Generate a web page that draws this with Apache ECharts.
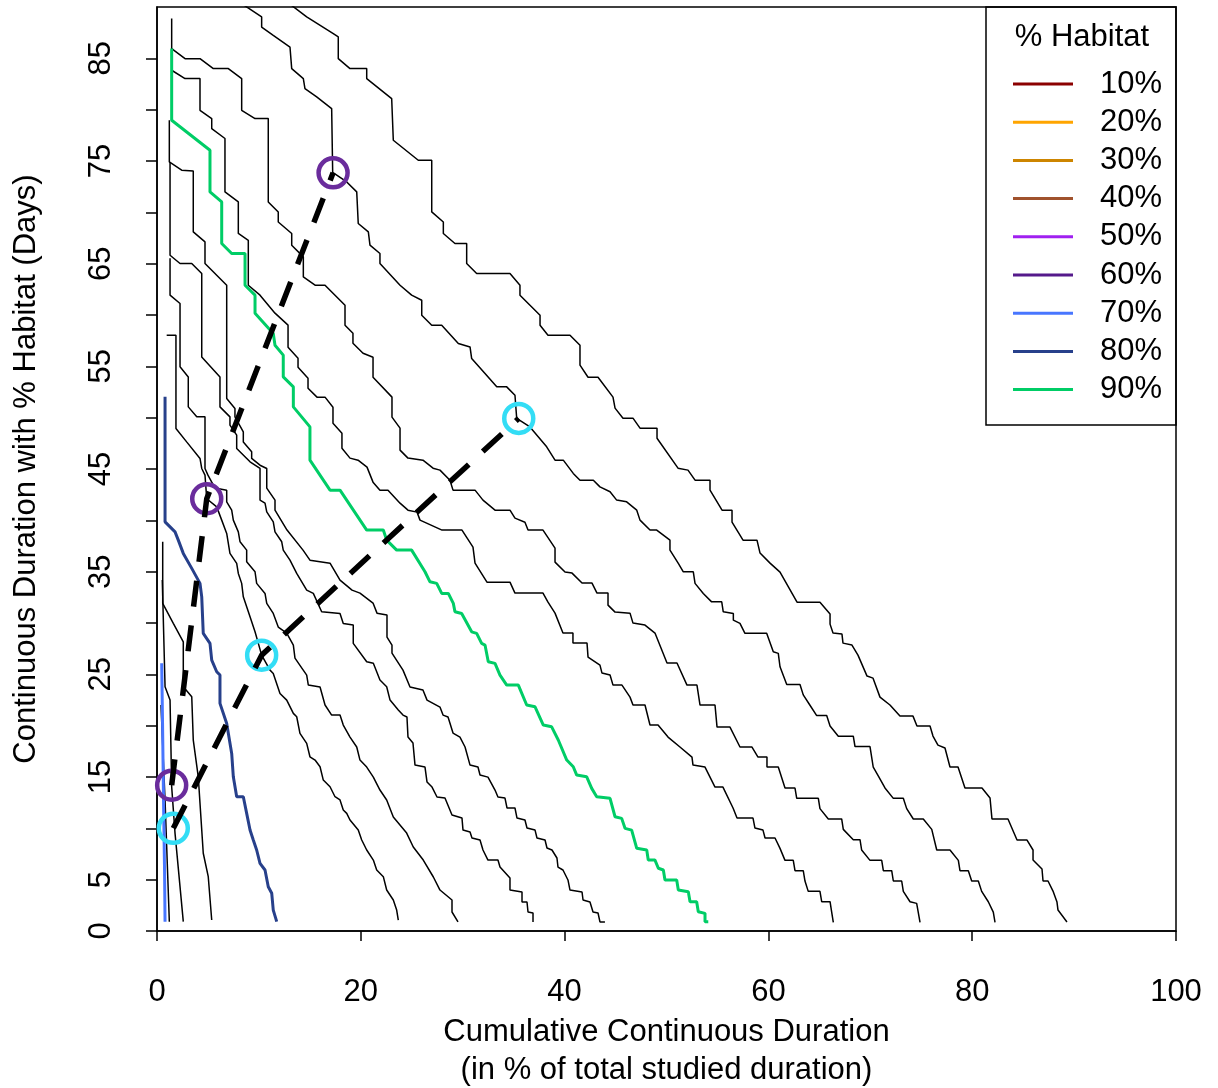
<!DOCTYPE html>
<html>
<head>
<meta charset="utf-8">
<script src="https://cdn.jsdelivr.net/npm/echarts@6/dist/echarts.min.js"></script>
<style>html,body{margin:0;padding:0;background:#fff;}#chart{width:1218px;height:1088px;}</style>
</head>
<body>
<div id="chart"></div>
<script>
// ---------------- DATA (x = cumulative % of studied duration, y = days) ----------------
const habitatLevels = ['10%','20%','30%','40%','50%','60%','70%','80%','90%'];
const habitatColors = ['#8B0000','#FFA500','#CD8500','#A0522D','#A020F0','#551A8B','#4876FF','#27408B','#00CD66'];
const xTicks = [0,20,40,60,80,100];
const yTickValues = [0,5,10,15,20,25,30,35,40,45,50,55,60,65,70,75,80,85];
const yLabelValues = [0,5,15,25,35,45,55,65,75,85];

// black reference curves
const curve1 = [[12.1,91.0],[14.69,89.03],[17.30,87.41],[17.79,87.08],[17.79,84.97],[18.94,84.00],[20.58,84.00],[20.58,83.03],[23.03,81.08],[23.19,77.02],[25.64,75.07],[26.96,75.07],[26.96,70.04],[28.10,69.06],[28.10,67.94],[29.24,66.96],[30.39,66.96],[30.39,65.02],[31.37,64.04],[34.64,64.04],[35.62,62.90],[35.62,61.93],[37.59,59.98],[37.59,59.01],[38.37,58.03],[40.53,58.03],[41.51,57.06],[41.51,55.11],[42.30,53.94],[43.28,53.94],[44.75,52.00],[44.95,50.93],[45.73,49.95],[46.71,49.95],[47.40,48.98],[49.07,48.98],[49.07,48.00],[51.13,45.08],[52.11,44.89],[52.80,43.91],[54.27,43.91],[54.27,42.94],[55.45,40.99],[56.43,40.99],[56.43,39.82],[57.51,38.07],[58.88,38.07],[59.18,36.81],[60.16,35.83],[61.14,34.96],[62.81,32.03],[65.06,32.03],[66.05,30.87],[66.05,29.89],[66.34,29.02],[67.22,28.92],[67.32,28.04],[68.20,27.85],[68.79,26.87],[69.68,24.83],[70.27,24.63],[70.95,22.78],[71.93,22.01],[72.91,20.93],[74.19,20.93],[74.58,19.96],[75.86,19.96],[76.15,18.99],[76.64,18.11],[77.33,17.82],[77.82,15.97],[78.61,15.97],[79.29,13.92],[80.96,13.92],[81.75,12.95],[81.94,10.91],[83.51,10.91],[84.40,8.86],[85.38,8.86],[85.97,7.89],[85.97,6.91],[86.85,6.04],[86.95,4.87],[87.44,4.87],[87.93,3.89],[88.32,2.82],[88.42,2.04],[89.30,0.88]];
const curve2 = [[7.3,91.0],[10.27,89.03],[10.27,88.05],[11.41,87.24],[13.05,86.10],[13.22,84.00],[14.36,83.03],[14.52,82.05],[15.67,81.24],[17.14,80.11],[17.24,73.90],[18.62,72.96],[19.60,71.99],[19.75,68.91],[20.74,68.09],[20.90,66.80],[21.88,65.99],[21.88,65.02],[23.85,62.90],[24.99,61.93],[25.98,61.44],[25.98,59.98],[26.96,59.01],[27.94,59.01],[29.57,57.22],[30.72,56.89],[30.88,55.76],[32.19,54.30],[33.34,53.00],[34.32,53.00],[35.13,52.19],[35.30,49.92],[36.60,49.10],[38.24,47.16],[39.06,45.86],[39.87,45.86],[40.85,44.57],[41.51,43.91],[42.82,43.91],[43.47,43.26],[44.46,42.78],[45.11,41.97],[46.09,41.80],[47.08,40.99],[47.40,40.02],[48.38,39.05],[49.04,39.05],[50.34,38.07],[50.34,37.10],[51.16,35.80],[51.65,34.99],[52.63,34.99],[52.80,33.86],[53.61,32.88],[54.43,32.06],[55.42,32.06],[55.57,31.09],[56.56,30.93],[56.56,30.28],[57.21,29.96],[57.70,28.99],[59.83,28.99],[60.48,27.20],[60.97,27.04],[61.14,25.74],[61.80,24.00],[63.10,24.00],[63.42,23.00],[64.08,21.99],[64.74,20.98],[65.72,20.98],[66.05,19.97],[66.86,18.97],[68.33,18.97],[68.50,17.96],[69.97,17.96],[70.29,15.95],[70.78,15.10],[71.44,13.93],[72.26,12.92],[73.24,12.92],[73.57,11.92],[74.22,10.91],[75.20,10.91],[76.03,9.90],[76.52,7.89],[77.82,7.89],[78.64,6.88],[78.80,5.87],[79.62,5.87],[79.95,4.87],[80.60,4.87],[80.93,3.86],[81.58,2.85],[82.07,1.84],[82.24,0.84]];
const curve3 = [[1.44,88.87],[1.44,85.95],[2.75,84.97],[4.22,84.97],[5.53,84.00],[7.00,84.00],[8.31,83.03],[8.31,79.94],[9.62,79.13],[10.92,79.13],[10.92,71.01],[11.90,70.04],[11.90,69.06],[13.22,67.94],[13.22,66.80],[14.36,65.66],[14.36,63.71],[15.51,62.90],[16.49,62.90],[18.45,60.95],[18.45,59.01],[19.23,58.23],[19.23,57.25],[20.22,56.28],[21.20,55.89],[21.20,53.94],[23.06,52.00],[23.06,50.05],[23.85,48.98],[23.85,46.84],[24.63,46.06],[26.10,45.86],[27.09,45.08],[27.77,44.89],[28.75,43.91],[29.05,42.94],[31.21,42.94],[31.99,41.97],[33.17,40.99],[34.64,40.99],[35.13,40.21],[36.11,39.82],[36.41,39.05],[37.88,39.05],[39.06,37.29],[39.06,35.93],[40.04,34.96],[40.73,34.86],[41.71,33.89],[42.69,33.89],[43.18,32.91],[44.26,32.91],[44.26,31.74],[44.95,31.06],[46.42,30.96],[46.71,29.99],[47.89,29.80],[48.87,29.02],[50.05,26.10],[51.03,26.10],[52.01,23.95],[52.99,23.95],[53.29,22.01],[54.76,22.01],[54.96,19.86],[56.23,19.86],[57.21,17.92],[58.39,17.92],[58.98,16.94],[59.86,16.94],[59.86,15.97],[60.97,15.97],[61.63,13.92],[62.61,13.92],[62.78,12.92],[64.90,12.92],[65.06,11.92],[65.88,10.91],[67.19,10.91],[67.35,9.90],[68.33,8.89],[68.99,8.89],[69.15,7.89],[69.97,6.88],[71.12,6.88],[71.28,5.87],[72.10,5.87],[72.26,4.87],[73.08,4.87],[73.24,3.86],[73.90,2.85],[74.55,2.69],[74.88,0.84]];
const curve4 = [[1.44,83.84],[2.75,83.03],[4.22,83.03],[4.22,79.94],[5.37,79.13],[5.37,78.16],[6.67,77.19],[6.67,71.99],[7.98,71.01],[7.98,67.94],[8.96,67.28],[8.96,62.90],[10.11,61.93],[11.58,60.18],[12.86,59.01],[12.86,56.86],[13.84,55.79],[13.84,54.92],[14.82,53.85],[14.82,52.87],[15.70,52.00],[16.49,52.00],[17.27,51.02],[17.27,49.46],[18.15,48.49],[18.15,47.03],[18.94,46.06],[19.73,45.86],[20.61,45.18],[21.20,43.72],[21.88,42.94],[22.67,42.94],[23.85,41.67],[24.63,40.99],[25.52,40.80],[25.81,40.02],[27.97,39.05],[29.93,39.05],[31.01,37.39],[31.21,35.83],[32.38,33.98],[34.64,33.98],[35.13,32.91],[37.88,32.91],[38.37,32.03],[39.06,30.96],[39.84,29.02],[40.82,29.02],[40.82,28.04],[42.20,28.04],[42.30,26.68],[43.47,25.90],[43.67,25.12],[44.46,24.93],[44.75,23.95],[45.63,23.95],[46.42,22.78],[46.71,22.01],[47.89,22.01],[48.38,20.06],[49.17,20.06],[50.15,18.89],[51.32,17.92],[52.50,16.94],[52.60,16.16],[53.78,15.97],[54.76,14.02],[55.54,14.02],[56.53,11.98],[56.92,11.00],[58.49,11.00],[58.68,10.03],[59.47,9.83],[59.67,9.06],[60.65,9.06],[61.14,8.05],[61.63,6.88],[62.44,6.88],[62.61,5.87],[63.42,5.87],[63.59,4.87],[63.91,3.86],[65.06,3.86],[65.23,2.85],[66.05,2.85],[66.21,1.84],[66.37,0.84]];
const curve5 = [[1.21,78.97],[1.21,74.91],[2.42,74.10],[3.56,74.03],[3.56,68.09],[4.71,67.12],[4.71,65.02],[6.84,62.90],[6.84,51.87],[7.65,50.90],[7.65,50.08],[8.47,48.62],[8.47,47.64],[9.29,46.67],[9.29,46.03],[10.11,45.37],[10.77,45.05],[10.77,43.14],[11.58,41.97],[11.58,40.99],[12.76,39.05],[14.33,37.10],[15.01,36.12],[16.98,35.83],[17.96,34.18],[19.14,33.20],[19.92,32.91],[21.20,31.94],[21.59,30.96],[22.57,30.77],[22.57,28.63],[23.06,27.85],[23.06,27.07],[24.14,25.41],[24.83,23.76],[26.10,23.47],[26.50,22.49],[27.77,21.81],[28.07,21.03],[28.56,20.84],[29.05,19.28],[29.73,18.89],[30.23,17.92],[30.72,16.16],[31.50,15.97],[31.70,15.19],[32.48,14.99],[33.17,13.73],[33.46,13.05],[34.15,12.95],[34.35,11.98],[35.13,11.98],[35.33,11.00],[36.11,10.81],[36.31,10.03],[37.10,9.83],[37.29,9.06],[38.08,8.86],[38.27,8.08],[38.76,7.89],[39.25,7.11],[39.35,6.23],[39.84,5.94],[40.33,4.97],[40.53,3.99],[41.71,3.80],[41.81,3.02],[42.49,2.82],[42.79,1.85],[43.28,1.75],[43.47,0.88],[43.96,0.88]];
const curve6 = [[1.28,74.91],[1.28,65.82],[2.26,65.02],[3.41,65.02],[4.39,64.04],[4.39,55.92],[6.18,53.97],[6.18,51.05],[7.16,50.08],[7.16,49.27],[7.82,48.30],[7.82,47.00],[9.13,45.70],[10.11,45.05],[10.11,41.97],[10.60,41.67],[10.77,40.83],[11.41,39.85],[11.58,38.88],[12.24,37.91],[12.39,37.10],[13.05,36.12],[13.71,34.83],[14.69,33.20],[15.34,32.88],[16.16,31.09],[17.96,30.93],[18.28,29.96],[19.26,29.80],[19.26,28.01],[20.58,26.22],[21.23,26.07],[21.88,24.44],[22.54,23.79],[22.87,22.49],[23.68,21.52],[24.14,21.03],[24.53,20.84],[24.63,18.89],[25.12,18.31],[25.32,16.16],[26.30,15.97],[26.50,14.51],[26.99,14.02],[27.48,13.05],[28.26,12.95],[28.95,11.30],[29.93,11.00],[30.03,9.83],[30.72,9.64],[30.91,9.06],[31.70,8.86],[31.99,7.89],[32.48,6.91],[33.46,6.91],[33.66,6.23],[34.64,5.16],[34.64,3.99],[35.82,3.80],[35.82,2.82],[36.31,2.82],[36.41,1.85],[36.90,1.75],[36.90,0.88]];
const curve7 = [[1.28,65.53],[1.28,61.93],[2.26,61.12],[2.26,54.95],[3.07,53.97],[3.07,51.05],[3.90,50.08],[4.71,50.08],[4.71,45.05],[5.00,44.40],[5.69,43.14],[6.84,42.94],[6.84,41.80],[7.33,40.99],[7.49,40.02],[7.98,38.88],[8.15,37.91],[8.80,37.10],[8.80,35.96],[9.62,34.99],[9.78,33.86],[10.60,32.88],[10.77,31.91],[11.41,30.93],[11.90,29.60],[12.73,29.02],[13.38,27.85],[13.54,26.58],[14.69,24.93],[14.85,23.95],[16.00,23.76],[16.49,22.01],[17.14,21.03],[17.96,21.03],[18.28,20.06],[18.94,18.89],[19.60,17.92],[19.92,16.65],[20.58,15.97],[21.23,14.99],[21.88,13.73],[22.54,12.76],[23.19,11.10],[24.50,9.54],[25.15,8.18],[26.13,6.91],[27.12,5.26],[27.77,3.99],[28.95,3.02],[28.95,1.85],[29.54,0.88]];
const curve8 = [[0.95,58.03],[1.86,58.03],[1.86,48.95],[2.91,47.64],[4.22,46.03],[4.39,45.05],[4.71,44.40],[4.88,42.10],[5.86,41.31],[6.35,40.02],[6.84,38.72],[7.16,36.78],[7.82,35.80],[7.98,34.83],[8.31,33.86],[8.47,32.55],[9.13,30.60],[9.62,29.14],[10.27,26.87],[11.09,25.41],[11.41,25.09],[12.07,23.14],[12.73,22.49],[13.38,21.20],[13.71,20.87],[14.03,19.25],[14.69,18.28],[15.01,16.97],[15.51,16.65],[16.00,16.00],[16.32,14.70],[16.98,14.05],[17.47,13.08],[17.96,12.76],[18.28,11.78],[18.62,11.46],[18.94,10.81],[19.75,9.83],[20.09,8.86],[20.58,7.89],[21.23,6.91],[21.56,5.94],[22.21,5.29],[22.54,3.99],[23.19,3.02],[23.52,2.04],[23.68,1.07]];
const curve9 = [[0.56,37.91],[0.56,31.91],[1.60,29.96],[2.58,28.17],[2.58,23.79],[3.41,22.81],[3.56,18.60],[4.05,15.02],[4.54,7.57],[5.03,5.29],[5.37,1.07]];
const curve10 = [[0.52,34.18],[0.79,23.79],[1.28,22.49],[1.44,14.05],[1.77,9.51],[2.58,0.91]];
const curve11 = [[0.39,22.01],[0.79,12.76],[1.21,0.91]];

// coloured % habitat curves
const habitat70 = [[0.46,26.07],[0.54,20.55],[0.64,12.76],[0.74,5.94],[0.79,0.91]];
const habitat80 = [[0.79,52.03],[0.79,39.85],[1.77,38.88],[2.09,38.07],[2.58,36.78],[3.41,35.32],[4.22,33.86],[4.39,32.55],[4.54,28.99],[5.20,28.01],[5.37,26.39],[5.86,25.25],[6.18,24.93],[6.18,22.17],[6.84,20.22],[7.33,17.30],[7.49,15.02],[7.82,13.08],[8.47,13.08],[8.80,11.46],[9.13,9.83],[9.45,8.86],[9.78,7.89],[10.11,6.59],[10.60,5.94],[10.92,4.31],[11.26,3.67],[11.41,2.04],[11.75,0.91]];
const habitat90 = [[1.44,85.95],[1.44,78.97],[5.20,76.05],[5.20,71.99],[6.35,71.01],[6.35,66.96],[7.33,65.99],[8.64,65.99],[8.64,62.90],[9.62,61.93],[9.62,60.18],[11.41,58.20],[11.58,57.06],[12.39,56.09],[12.39,53.97],[13.38,53.00],[13.38,51.05],[15.01,49.10],[15.01,45.86],[16.98,42.94],[17.96,42.94],[20.58,39.05],[22.21,39.05],[22.54,38.07],[23.52,37.10],[24.99,37.10],[26.30,34.99],[26.79,34.01],[27.45,33.86],[27.94,32.88],[28.59,32.88],[29.08,31.91],[29.24,31.09],[29.90,30.93],[30.88,29.14],[31.37,28.99],[31.86,28.01],[32.19,27.85],[32.51,26.22],[33.17,26.07],[33.66,24.93],[34.32,23.95],[35.46,23.95],[36.28,22.01],[37.10,21.84],[37.91,20.06],[38.73,19.89],[39.38,18.60],[40.21,16.65],[40.85,16.00],[41.19,15.19],[42.17,15.02],[42.66,13.89],[43.15,13.08],[44.46,12.92],[44.95,11.13],[45.60,10.97],[45.93,10.00],[46.58,9.83],[47.08,8.05],[48.06,7.89],[48.21,6.91],[48.87,6.91],[49.20,6.11],[49.69,5.94],[49.85,4.97],[51.00,4.97],[51.16,3.99],[52.14,3.83],[52.31,2.85],[52.96,2.85],[53.12,1.88],[53.78,1.72],[53.78,0.91],[54.10,0.91]];

// highlighted points (circles) joined by dashed lines
const purplePoints = [[1.44,14.2],[4.88,42.1],[17.28,73.85]];
const cyanPoints = [[1.60,10.0],[10.27,26.87],[35.5,49.93]];

// ---------------- CHART ----------------
const FONT = 'Liberation Sans, Arial, sans-serif';
const FS = 31;
const blackCurves = [curve1,curve2,curve3,curve4,curve5,curve6,curve7,curve8,curve9,curve10,curve11];
const habitatData = {'70%': habitat70, '80%': habitat80, '90%': habitat90};

const series = [];
blackCurves.forEach(function (c, i) {
  series.push({
    name: 'ref' + i, type: 'line', data: c, showSymbol: false, silent: true,
    color: '#000', lineStyle: {color: '#000', width: 1.5}, z: 2
  });
});
habitatLevels.forEach(function (lvl, i) {
  series.push({
    name: lvl, type: 'line', data: habitatData[lvl] || [], showSymbol: false, silent: true,
    color: habitatColors[i], lineStyle: {color: habitatColors[i], width: 3}, z: 3
  });
});
series.push({
  name: 'purpleCircles', type: 'scatter', data: purplePoints, symbol: 'circle', symbolSize: 29, silent: true,
  itemStyle: {color: 'rgba(0,0,0,0)', borderColor: '#6A2C9C', borderWidth: 4.5, opacity: 1}, z: 4
});
series.push({
  name: 'cyanCircles', type: 'scatter', data: cyanPoints, symbol: 'circle', symbolSize: 29, silent: true,
  itemStyle: {color: 'rgba(0,0,0,0)', borderColor: '#33DDF5', borderWidth: 4.5, opacity: 1}, z: 4
});
series.push({
  name: 'purpleLink', type: 'line', data: purplePoints, showSymbol: false, silent: true,
  lineStyle: {color: '#000', width: 5.5, type: [26, 19], cap: 'butt'}, z: 5
});
series.push({
  name: 'cyanLink', type: 'line', data: cyanPoints, showSymbol: false, silent: true,
  lineStyle: {color: '#000', width: 5.5, type: [26, 19], cap: 'butt'}, z: 5
});

const chart = echarts.init(document.getElementById('chart'), null, {renderer: 'canvas'});
chart.setOption({
  animation: false,
  backgroundColor: '#fff',
  textStyle: {fontFamily: FONT, color: '#000'},
  grid: {left: 157, right: 42, top: 7, bottom: 157, show: true, borderColor: '#000', borderWidth: 1.5,
    containLabel: false, outerBoundsMode: 'none'},
  xAxis: {
    type: 'value', min: 0, max: 100, interval: 20,
    axisLine: {show: true, onZero: false, lineStyle: {color: '#000', width: 1.5}},
    axisTick: {show: true, inside: false, length: 10, lineStyle: {color: '#000', width: 1.5}},
    axisLabel: {show: true, fontSize: FS, color: '#000', fontFamily: FONT, margin: 46,
      customValues: xTicks},
    splitLine: {show: false},
    name: 'Cumulative Continuous Duration\n(in % of total studied duration)',
    nameLocation: 'middle', nameGap: 76,
    nameTextStyle: {fontSize: FS, color: '#000', fontFamily: FONT, lineHeight: 38.5}
  },
  yAxis: {
    type: 'value', min: 0, max: 90, interval: 5,
    axisLine: {show: true, onZero: false, lineStyle: {color: '#000', width: 1.5}},
    axisTick: {show: true, inside: false, length: 11, lineStyle: {color: '#000', width: 1.5},
      customValues: yTickValues},
    axisLabel: {show: true, fontSize: FS, color: '#000', fontFamily: FONT, rotate: 90, margin: 40,
      customValues: yLabelValues},
    splitLine: {show: false},
    name: 'Continuous Duration with % Habitat (Days)',
    nameLocation: 'middle', nameGap: 115,
    nameTextStyle: {fontSize: FS, color: '#000', fontFamily: FONT}
  },
  legend: {
    data: habitatLevels, orient: 'vertical', left: 1013, top: 68.5, padding: 0,
    itemWidth: 60, itemHeight: 3, itemGap: 7.2, icon: 'rect', selectedMode: false,
    textStyle: {fontSize: FS, color: '#000', fontFamily: FONT, padding: [0, 0, 0, 22]}
  },
  graphic: [
    {type: 'rect', shape: {x: 986, y: 7, width: 190, height: 418}, style: {fill: 'rgba(0,0,0,0)', stroke: '#000', lineWidth: 1.5}, silent: true, z: 10},
    {type: 'text', x: 1082, y: 37, style: {text: '% Habitat', fontSize: FS, fontFamily: FONT, fill: '#000', textAlign: 'center', textVerticalAlign: 'middle'}, silent: true, z: 10}
  ],
  series: series
});
</script>
</body>
</html>
